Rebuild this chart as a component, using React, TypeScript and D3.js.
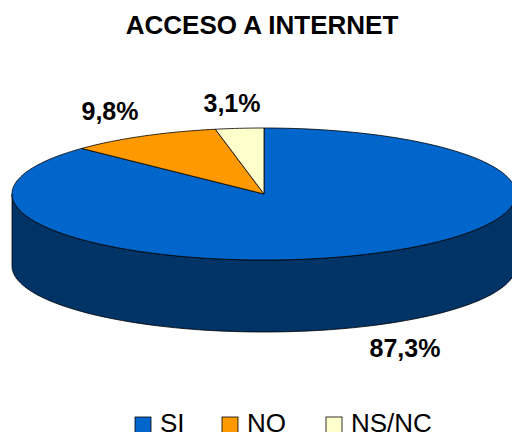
import React from "react";
import * as d3 from "d3";

const categories = ["SI", "NO", "NS/NC"];
const values = [87.3, 9.8, 3.1];
const labels = ["87,3%", "9,8%", "3,1%"];
const topColors = ["#0066CC", "#FF9900", "#FFFFCC"];
const sideColors = ["#003366", "#995C00", "#99997A"];
const title = "ACCESO A INTERNET";

const W = 512, H = 432;
const cx = 264, cy = 194, rx = 252, ry = 66, depth = 72;

function pt(t: number, dy = 0): [number, number] {
  return [cx + rx * Math.sin(t), cy - ry * Math.cos(t) + dy];
}

function arcPath(a0: number, a1: number, dy = 0, reverse = false): string {
  const n = Math.max(2, Math.ceil(Math.abs(a1 - a0) / 0.02));
  const pts: [number, number][] = [];
  for (let i = 0; i <= n; i++) {
    const t = a0 + ((a1 - a0) * i) / n;
    pts.push(pt(t, dy));
  }
  if (reverse) pts.reverse();
  return pts.map((p) => `L${p[0].toFixed(2)},${p[1].toFixed(2)}`).join("");
}

export default function App() {
  const pie = d3.pie<number>().sort(null).value((d) => d);
  const arcs = pie(values);

  const labelPos: [number, number][] = [
    [405, 357],
    [110, 120],
    [232, 112],
  ];

  const sides: JSX.Element[] = [];
  arcs.forEach((a, i) => {
    const s = Math.max(a.startAngle, Math.PI / 2);
    const e = Math.min(a.endAngle, (3 * Math.PI) / 2);
    if (e > s) {
      const p0 = pt(s);
      const d =
        `M${p0[0]},${p0[1]}` +
        arcPath(s, e) +
        arcPath(s, e, depth, true) +
        "Z";
      sides.push(
        <path key={"s" + i} d={d} fill={sideColors[i]} stroke="#000" strokeWidth={0.8} />
      );
    }
  });

  const legendX = [135, 222, 326];

  return (
    <svg
      width={W}
      height={H}
      style={{ position: "absolute", left: 0, top: 0, background: "#fff" }}
      fontFamily="'Liberation Sans', Arial, sans-serif"
    >
      <rect width={W} height={H} fill="#fff" />
      <text x={262} y={34} textAnchor="middle" fontWeight="bold" fontSize={26} fill="#000">
        {title}
      </text>
      {sides}
      {arcs.map((a, i) => {
        const p0 = pt(a.startAngle);
        const d = `M${cx},${cy}L${p0[0]},${p0[1]}` + arcPath(a.startAngle, a.endAngle) + "Z";
        return <path key={"t" + i} d={d} fill={topColors[i]} stroke="#000" strokeWidth={0.8} strokeLinejoin="round" />;
      })}
      {labels.map((l, i) => (
        <text key={"l" + i} x={labelPos[i][0]} y={labelPos[i][1]} textAnchor="middle" fontWeight="bold" fontSize={25} fill="#000">
          {l}
        </text>
      ))}
      {categories.map((c, i) => (
        <g key={"g" + i}>
          <rect x={legendX[i]} y={417} width={16} height={16} fill={topColors[i]} stroke="#000" strokeWidth={0.8} />
          <text x={legendX[i] + 25} y={432} fontSize={26} fill="#000">
            {c}
          </text>
        </g>
      ))}
    </svg>
  );
}
